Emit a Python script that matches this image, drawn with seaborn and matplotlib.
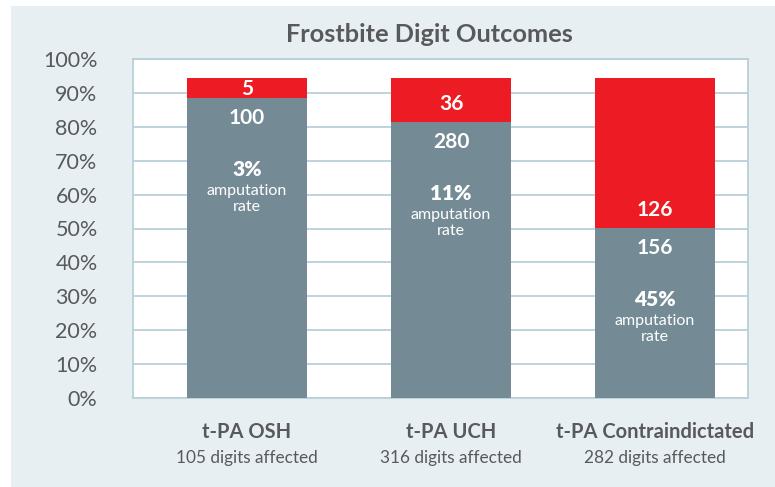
import matplotlib
matplotlib.use("Agg")
import matplotlib.pyplot as plt
from matplotlib.patches import Rectangle
from matplotlib.ticker import PercentFormatter
import pandas as pd
import seaborn as sns

# data
groups = ["t-PA OSH", "t-PA UCH", "t-PA Contraindictated"]
digits_affected = [105, 316, 282]
salvaged_counts = [100, 280, 156]
amputated_counts = [5, 36, 126]
amputation_rates = ["3%", "11%", "45%"]
salvaged_pct = [88.5, 81.4, 50.1]     # height of grey segment (%)
amputated_pct = [5.9, 13.0, 44.3]     # height of red segment (%)

GREY = "#748b96"
RED = "#ed1c24"
PANEL = "#e8eff2"
GRID = "#b9d0d9"
TEXT = "#58595b"

df = pd.DataFrame({
    "group": groups,
    "salvaged": salvaged_pct,
    "total": [s + a for s, a in zip(salvaged_pct, amputated_pct)],
})

sns.set_style("white")
plt.rcParams["font.family"] = ["Lato", "DejaVu Sans"]

fig = plt.figure(figsize=(7.75, 4.87), dpi=100)
fig.patch.set_facecolor("white")
fig.patches.append(Rectangle((11 / 775, 0), 1, (487 - 6) / 487,
                             transform=fig.transFigure, facecolor=PANEL,
                             edgecolor="none", zorder=-5))

ax = fig.add_axes([133 / 775, 89 / 487, 615 / 775, 339 / 487])
ax.set_facecolor("white")

# stacked bars: red drawn at full height, grey on top of it
sns.barplot(data=df, x="group", y="total", color=RED, width=0.588,
            saturation=1, linewidth=0, edgecolor="none", ax=ax, zorder=3)
sns.barplot(data=df, x="group", y="salvaged", color=GREY, width=0.588,
            saturation=1, linewidth=0, edgecolor="none", ax=ax, zorder=4)

ax.set_xlim(-0.559, 2.456)
ax.set_ylim(0, 100)
ax.set_yticks(range(0, 101, 10))
ax.yaxis.set_major_formatter(PercentFormatter(decimals=0))
ax.grid(axis="y", color=GRID, linewidth=1.3, zorder=1)
ax.set_axisbelow(True)
for side in ["left", "right", "top", "bottom"]:
    ax.spines[side].set_visible(True)
    ax.spines[side].set_color(GRID)
    ax.spines[side].set_linewidth(1.3)
ax.tick_params(axis="y", length=11.5, width=1.3, color="#8aa2ac",
               labelsize=15.5, labelcolor=TEXT, pad=14)
ax.tick_params(axis="x", length=0, labelbottom=False)
ax.set_xlabel("")
ax.set_ylabel("")

# labels inside the bars
for i in range(len(groups)):
    top_grey = salvaged_pct[i]
    top_red = top_grey + amputated_pct[i]
    red_y = min((top_grey + top_red) / 2, top_grey + 5.8)
    ax.text(i, red_y - 0.4, str(amputated_counts[i]), ha="center",
            va="center", color="white", fontsize=15, fontweight="bold",
            zorder=5)
    ax.text(i, top_grey - 5.9, str(salvaged_counts[i]), ha="center",
            va="center", color="white", fontsize=15, fontweight="bold",
            zorder=5)
    ax.text(i, top_grey - 21, amputation_rates[i], ha="center", va="center",
            color="white", fontsize=15, fontweight="heavy", zorder=5)
    ax.text(i, top_grey - 29.8, "amputation\nrate", ha="center",
            va="center", color="white", fontsize=11.5, linespacing=1.15,
            zorder=5)
    # category labels below the axis
    ax.text(i, -0.100, groups[i], transform=ax.get_xaxis_transform(),
            ha="center", va="center", color=TEXT, fontsize=14.5,
            fontweight="bold")
    ax.text(i, -0.177, f"{digits_affected[i]} digits affected",
            transform=ax.get_xaxis_transform(), ha="center", va="center",
            color=TEXT, fontsize=12.4)

fig.text(429 / 775, 1 - 35 / 487, "Frostbite Digit Outcomes", ha="center",
         va="center", color=TEXT, fontsize=18.3, fontweight="bold")

fig.savefig("out.png", dpi=100, facecolor=fig.get_facecolor())
